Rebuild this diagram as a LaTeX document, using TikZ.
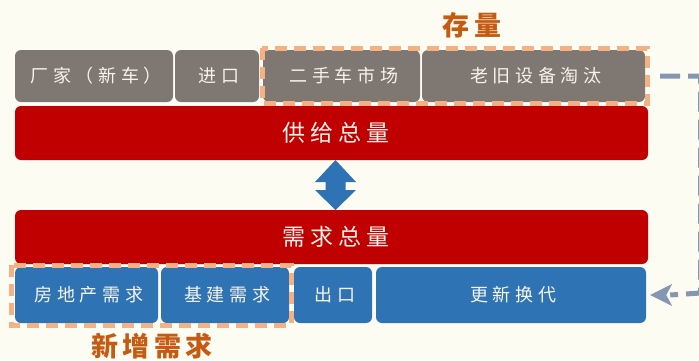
\documentclass[tikz,border=0pt]{standalone}
\usepackage{fontspec}
\setmainfont{Noto Sans CJK SC}
\usetikzlibrary{arrows.meta}
\definecolor{bgc}{HTML}{FDFCF3}
\definecolor{grayc}{HTML}{7F7771}
\definecolor{redc}{HTML}{C00000}
\definecolor{bluec}{HTML}{2E74B5}
\definecolor{dashc}{HTML}{F4B183}
\definecolor{labc}{HTML}{C55A11}
\definecolor{linkc}{HTML}{8496B0}
\definecolor{txtc}{HTML}{F7F3EA}
\tikzset{
  box/.style={rounded corners=6pt, inner sep=0pt, text=txtc, font=\fontsize{18}{20}\selectfont\addfontfeature{LetterSpace=26}, execute at begin node={\kern4.6pt}},
  graybox/.style={box, fill=grayc},
  bluebox/.style={box, fill=bluec},
  redbar/.style={box, fill=redc, minimum width=633pt, minimum height=54pt, font=\fontsize{23}{26}\selectfont\addfontfeature{LetterSpace=22}, execute at begin node={\kern5pt}},
  orangedash/.style={draw=dashc, line width=5pt, dash pattern=on 12pt off 7pt},
  lab/.style={text=labc, font=\fontsize{27}{29}\selectfont\bfseries\addfontfeature{LetterSpace=15}, execute at begin node={\kern4pt}},
  link/.style={draw=linkc, line width=5pt, dash pattern=on 20pt off 8pt},
}
\begin{document}
\begin{tikzpicture}[x=1pt,y=-1pt]
\fill[bgc] (0,0) rectangle (699,360);
\useasboundingbox (0,0) rectangle (699,360);
% top row
\node[graybox, minimum width=158pt, minimum height=52pt] (cj) at (94,76) {厂家（新车）};
\node[graybox, minimum width=84pt, minimum height=52pt] (jk) at (217,76) {进口};
\node[graybox, minimum width=157pt, minimum height=52pt] (es) at (341.5,76) {二手车市场};
\node[graybox, minimum width=223pt, minimum height=52pt] (lj) at (533.5,76) {老旧设备淘汰};
\draw[orangedash] (262,48) rectangle (647,103);
\node[lab] (cl) at (470,25) {存量};
% red bars
\node[redbar] (gj) at (331.5,133) {供给总量};
\node[redbar] (xq) at (331.5,237) {需求总量};
% double arrow
\fill[bluec] (335.5,160) -- (356,182) -- (345.5,182) -- (345.5,190) -- (356,190) -- (335.5,210)
  -- (315,190) -- (325.5,190) -- (325.5,182) -- (315,182) -- cycle;
% bottom row
\node[bluebox, minimum width=143pt, minimum height=56pt] (fd) at (86.5,295) {房地产需求};
\node[bluebox, minimum width=128pt, minimum height=56pt] (jj) at (225,295) {基建需求};
\node[bluebox, minimum width=78pt, minimum height=56pt] (ck) at (333,295) {出口};
\node[bluebox, minimum width=270pt, minimum height=56pt] (gx) at (511,295) {更新换代};
\draw[orangedash] (11,265) rectangle (291,325);
\node[lab] (xz) at (150,346) {新增需求};
% link
\coordinate (l1) at (660,76);
\coordinate (l2) at (700.5,76);
\coordinate (l3) at (700.5,293);
\draw[link] (l1) -- (l2) -- (l3) -- ([xshift=24pt]gx.east);
\fill[linkc] ([xshift=4pt]gx.east) -- ([xshift=26pt,yshift=-11pt]gx.east) -- ([xshift=20pt]gx.east) -- ([xshift=26pt,yshift=11pt]gx.east) -- cycle;
\end{tikzpicture}
\end{document}
